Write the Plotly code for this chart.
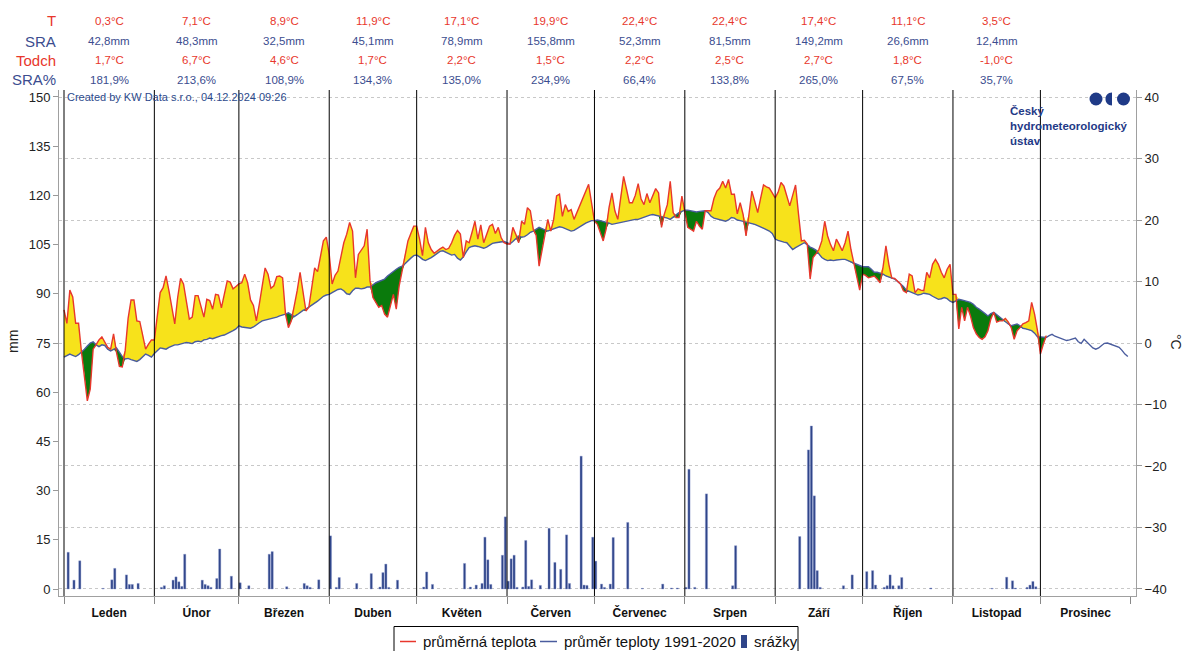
import pandas as pd
import plotly.graph_objects as go

# ---------------- data ----------------
months = ["Leden", "Únor", "Březen", "Duben", "Květen", "Červen",
          "Červenec", "Srpen", "Září", "Říjen", "Listopad", "Prosinec"]

hdr_T = ["0,3°C", "7,1°C", "8,9°C", "11,9°C", "17,1°C", "19,9°C",
         "22,4°C", "22,4°C", "17,4°C", "11,1°C", "3,5°C"]
hdr_SRA = ["42,8mm", "48,3mm", "32,5mm", "45,1mm", "78,9mm", "155,8mm",
           "52,3mm", "81,5mm", "149,2mm", "26,6mm", "12,4mm"]
hdr_Todch = ["1,7°C", "6,7°C", "4,6°C", "1,7°C", "2,2°C", "1,5°C",
             "2,2°C", "2,5°C", "2,7°C", "1,8°C", "-1,0°C"]
hdr_SRApct = ["181,9%", "213,6%", "108,9%", "134,3%", "135,0%", "234,9%",
              "66,4%", "133,8%", "265,0%", "67,5%", "35,7%"]

# daily mean temperature 2024 (°C)
t_jan = [5.4, 3.2, 8.6, 7.5, 3.2, 3.2, -1.5, -5.0, -9.4, -7.5, -1.0, -0.3, 0.5, 1.0, 0.2,
         -0.7, -1.0, 1.5, -1.5, -3.8, -3.9, -1.2, 4.0, 7.0, 7.0, 3.6, 3.5, 1.5, -1.0, -0.2, 0.5]
t_feb = [0.5, 4.4, 8.2, 9.0, 10.9, 8.5, 5.8, 3.1, 7.4, 10.5, 9.6, 6.9, 3.9, 4.2, 7.7,
         7.7, 5.8, 4.2, 7.1, 6.9, 5.5, 7.9, 7.8, 5.7, 7.9, 10.1, 9.9, 8.8, 9.2]
t_mar = [9.6, 9.8, 11.2, 9.8, 7.0, 6.1, 3.6, 6.3, 9.5, 12.2, 11.2, 8.9, 9.3, 10.8, 10.9,
         10.6, 4.7, 2.5, 3.6, 6.0, 8.5, 11.5, 8.5, 5.2, 5.8, 9.0, 12.2, 11.6, 14.0, 16.6, 17.2]
t_apr = [14.4, 9.6, 11.0, 11.7, 13.9, 16.3, 17.7, 19.6, 18.2, 10.6, 14.4, 15.2, 15.8, 18.5, 10.1,
         7.4, 6.5, 5.8, 6.1, 4.7, 4.2, 6.3, 7.9, 5.5, 9.3, 11.7, 14.5, 16.6, 17.8, 19.0]
t_may = [19.0, 16.9, 14.2, 18.8, 16.3, 15.2, 14.6, 15.0, 15.3, 15.6, 15.2, 15.4, 16.3, 17.5, 18.3,
         17.7, 13.9, 16.6, 16.3, 18.0, 19.8, 16.9, 19.2, 16.3, 17.5, 19.0, 19.3, 17.8, 18.8, 17.1, 16.3]
t_jun = [16.1, 16.1, 18.8, 17.7, 16.3, 19.8, 19.3, 22.0, 21.5, 18.5, 17.5, 12.5, 15.2, 17.9, 20.1,
         18.2, 20.1, 23.9, 24.2, 20.6, 22.5, 21.4, 21.7, 20.1, 21.2, 22.3, 23.7, 24.8, 25.8, 22.8]
t_jul = [19.8, 19.3, 18.0, 16.6, 18.5, 22.0, 24.4, 21.5, 20.1, 24.0, 27.1, 25.0, 22.8, 22.8, 24.0,
         25.9, 23.4, 22.5, 24.3, 22.8, 23.9, 25.1, 24.4, 18.8, 21.0, 22.5, 26.3, 21.2, 20.4, 20.4, 23.9]
t_aug = [21.5, 18.8, 18.5, 18.2, 19.8, 19.0, 18.5, 21.5, 21.5, 21.5, 23.5, 24.7, 25.2, 26.3, 25.2,
         26.6, 24.2, 24.2, 21.0, 22.8, 20.9, 17.4, 20.9, 24.7, 23.0, 21.2, 23.5, 25.7, 25.4, 25.2, 24.4]
t_sep = [23.6, 24.5, 26.1, 25.5, 24.0, 22.3, 24.0, 25.7, 21.0, 16.6, 16.7, 16.1, 10.4, 13.9, 14.5,
         15.2, 16.6, 19.8, 17.4, 16.0, 15.0, 16.9, 16.0, 15.0, 16.3, 18.2, 15.2, 12.8, 10.6, 8.6]
t_oct = [11.2, 11.0, 10.6, 10.7, 10.9, 10.4, 9.8, 12.3, 15.8, 12.8, 10.6, 10.5, 10.0, 9.6, 8.5,
         8.2, 11.2, 10.9, 8.2, 8.8, 8.6, 8.5, 11.5, 10.6, 12.8, 13.6, 12.8, 11.5, 10.6, 12.0, 12.8]
t_nov = [7.9, 7.9, 2.3, 5.8, 3.6, 5.8, 4.4, 2.5, 1.5, 0.9, 0.6, 1.0, 2.0, 3.9, 5.0,
         3.4, 3.6, 3.6, 4.0, 3.4, 2.5, 0.6, 2.0, 2.5, 3.1, 3.3, 3.6, 6.6, 4.7, 2.0]
t_dec = [-1.8, -0.2, 1.2]

# daily normal 1991-2020 (°C)
n_jan = [-2.3, -2.0, -1.8, -2.0, -2.2, -1.9, -1.5, -1.0, -0.5, 0.0, 0.2, -0.3, -0.6, -0.3, -0.4,
         -1.0, -1.3, -1.0, -0.8, -1.5, -2.2, -2.6, -2.5, -2.7, -2.8, -3.0, -2.7, -2.2, -1.8, -2.0, -2.3]
n_feb = [-1.7, -1.2, -0.8, -0.9, -1.0, -0.7, -0.5, -0.3, -0.3, -0.2, 0.0, 0.1, 0.0, -0.1, 0.2,
         0.3, 0.2, 0.5, 0.6, 0.8, 0.7, 0.9, 1.1, 1.2, 1.3, 1.5, 1.7, 2.0, 2.3]
n_mar = [2.8, 2.6, 2.5, 2.4, 2.4, 2.6, 3.0, 3.3, 3.6, 3.7, 3.8, 4.0, 4.0, 4.2, 4.4,
         4.5, 4.7, 4.9, 4.6, 4.3, 4.6, 5.0, 5.3, 5.5, 5.8, 6.1, 6.5, 6.8, 7.2, 7.6, 7.8]
n_apr = [7.9, 8.2, 8.5, 8.7, 8.8, 8.5, 8.0, 7.9, 8.5, 8.9, 8.9, 8.8, 8.9, 9.1, 9.1,
         9.5, 9.8, 10.0, 10.2, 10.4, 10.9, 11.3, 11.7, 12.0, 12.3, 12.5, 12.9, 13.4, 13.8, 14.2]
n_may = [14.3, 14.0, 13.6, 13.4, 13.6, 13.9, 14.2, 14.6, 14.9, 15.0, 14.8, 14.5, 14.3, 14.4, 13.8,
         13.5, 14.0, 14.8, 15.5, 15.7, 15.8, 15.7, 15.5, 15.4, 15.6, 15.9, 16.2, 16.3, 16.4, 16.5, 16.5]
n_jun = [16.3, 16.1, 16.5, 17.0, 17.4, 17.2, 17.3, 17.6, 18.0, 18.2, 18.5, 18.8, 18.6, 18.4, 18.2,
         18.4, 18.6, 18.8, 18.9, 18.8, 18.6, 18.4, 18.2, 18.3, 18.6, 19.0, 19.3, 19.5, 19.7, 19.9]
n_jul = [19.9, 20.0, 19.9, 19.8, 19.6, 19.5, 19.3, 19.4, 19.6, 19.7, 19.8, 19.9, 20.0, 20.0, 20.1,
         20.1, 20.3, 20.5, 20.6, 20.8, 20.9, 20.8, 20.7, 20.5, 20.5, 20.3, 20.1, 20.5, 20.9, 21.2, 21.4]
n_aug = [21.6, 21.6, 21.5, 21.4, 21.3, 21.4, 21.5, 21.5, 21.2, 20.6, 20.3, 20.2, 20.1, 19.9, 19.8,
         20.0, 20.4, 20.3, 20.0, 19.9, 19.8, 19.7, 19.6, 19.4, 19.3, 19.1, 18.9, 18.7, 18.5, 18.2, 17.8]
n_sep = [16.9, 16.7, 16.5, 16.4, 16.3, 15.8, 15.2, 15.5, 15.8, 16.1, 16.3, 16.0, 15.6, 15.4, 15.1,
         14.5, 13.9, 13.6, 13.4, 13.5, 13.4, 13.5, 13.6, 13.6, 13.6, 13.4, 13.1, 12.9, 12.7, 12.5]
n_oct = [12.4, 12.4, 12.4, 12.0, 11.5, 11.5, 11.4, 11.2, 10.9, 10.7, 10.5, 10.4, 10.0, 9.6, 9.2,
         8.6, 8.4, 8.2, 8.0, 7.8, 7.9, 8.1, 8.0, 7.9, 7.6, 7.3, 7.1, 7.2, 7.4, 7.2, 6.8]
n_nov = [6.6, 6.9, 7.1, 7.0, 6.9, 6.8, 6.6, 6.3, 5.8, 5.5, 5.2, 4.8, 4.4, 4.8, 5.0,
         4.6, 4.3, 3.9, 3.4, 3.1, 2.8, 2.9, 3.1, 2.8, 2.4, 2.3, 2.1, 2.0, 1.6, 1.0]
n_dec = [1.0, 0.9, 0.9, 1.2, 1.4, 1.1, 0.9, 0.7, 0.5, 0.4, 0.5, 0.7, 0.8, 0.2, -0.05,
         0.6, 0.1, -0.4, -0.8, -1.0, -0.8, -0.4, -0.05, 0.0, -0.2, -0.4, -0.5, -0.7, -1.2, -1.8, -2.2]

# daily precipitation (date, mm) - days without rain omitted
rain_date = ["2024-01-02", "2024-01-04", "2024-01-06", "2024-01-14", "2024-01-17", "2024-01-18",
             "2024-01-22", "2024-01-23", "2024-01-24", "2024-01-26",
             "2024-02-03", "2024-02-04", "2024-02-07", "2024-02-08", "2024-02-09", "2024-02-10",
             "2024-02-11", "2024-02-17", "2024-02-18", "2024-02-19", "2024-02-20", "2024-02-22",
             "2024-02-23", "2024-02-27",
             "2024-03-01", "2024-03-04", "2024-03-11", "2024-03-12", "2024-03-17", "2024-03-23",
             "2024-03-24", "2024-03-25", "2024-03-28",
             "2024-04-01", "2024-04-03", "2024-04-04", "2024-04-10", "2024-04-15", "2024-04-18",
             "2024-04-19", "2024-04-20", "2024-04-21", "2024-04-24",
             "2024-05-03", "2024-05-04", "2024-05-06", "2024-05-17", "2024-05-19", "2024-05-21",
             "2024-05-23", "2024-05-24", "2024-05-25", "2024-05-26", "2024-05-30", "2024-05-31",
             "2024-06-01", "2024-06-02", "2024-06-03", "2024-06-04", "2024-06-06", "2024-06-07",
             "2024-06-08", "2024-06-09", "2024-06-12", "2024-06-15", "2024-06-17", "2024-06-19",
             "2024-06-21", "2024-06-22", "2024-06-26", "2024-06-27", "2024-06-28", "2024-06-30",
             "2024-07-01", "2024-07-03", "2024-07-04", "2024-07-06", "2024-07-07", "2024-07-12",
             "2024-07-17", "2024-07-24", "2024-07-27", "2024-07-29",
             "2024-08-01", "2024-08-02", "2024-08-04", "2024-08-08", "2024-08-17", "2024-08-18",
             "2024-09-09", "2024-09-12", "2024-09-13", "2024-09-14", "2024-09-15", "2024-09-16",
             "2024-09-24", "2024-09-27",
             "2024-10-02", "2024-10-04", "2024-10-05", "2024-10-08", "2024-10-09", "2024-10-10",
             "2024-10-11", "2024-10-13", "2024-10-14", "2024-10-24",
             "2024-11-14", "2024-11-19", "2024-11-21", "2024-11-22", "2024-11-26", "2024-11-27",
             "2024-11-28", "2024-11-29"]
rain_mm = [11.2, 2.7, 8.6, 0.2, 2.8, 6.3, 4.3, 1.4, 1.4, 1.7,
           0.5, 1.0, 2.7, 3.7, 2.2, 0.8, 10.6, 2.7, 1.4, 1.0, 0.5, 3.2, 12.2, 3.9,
           1.9, 1.0, 10.6, 11.4, 0.7, 1.7, 1.0, 0.5, 2.8,
           16.2, 0.5, 3.5, 1.7, 4.7, 0.6, 5.0, 7.6, 0.5, 2.7,
           0.6, 5.2, 1.4, 7.8, 0.6, 1.2, 1.7, 15.8, 8.9, 1.4, 10.3, 22.0,
           2.4, 9.2, 10.3, 0.5, 0.6, 14.8, 0.8, 2.8, 1.1, 18.5, 8.1, 6.0, 16.5, 1.7, 40.5, 1.2, 1.1, 15.8,
           8.5, 1.5, 0.5, 1.5, 15.7, 20.3, 0.2, 1.5, 0.3, 0.3,
           0.5, 36.5, 0.5, 29.0, 1.0, 13.2,
           16.0, 42.4, 49.7, 28.4, 5.6, 0.5, 1.0, 4.3,
           5.3, 5.6, 1.2, 0.5, 1.0, 4.3, 1.0, 1.0, 3.5, 0.3,
           0.2, 3.6, 2.5, 0.3, 0.5, 1.2, 2.3, 0.7]

legend_names = ["průměrná teplota", "průměr teploty 1991-2020", "srážky"]

# ---------------- assemble ----------------
t_act = t_jan + t_feb + t_mar + t_apr + t_may + t_jun + t_jul + t_aug + t_sep + t_oct + t_nov + t_dec
t_norm = n_jan + n_feb + n_mar + n_apr + n_may + n_jun + n_jul + n_aug + n_sep + n_oct + n_nov + n_dec
days = pd.date_range("2024-01-01", periods=len(t_norm), freq="D")
act_days = days[:len(t_act)]
norm_part = t_norm[:len(t_act)]
upper = [max(a, n) for a, n in zip(t_act, norm_part)]
lower = [min(a, n) for a, n in zip(t_act, norm_part)]

month_starts = pd.date_range("2024-01-01", periods=13, freq="MS")
month_mid = [month_starts[i] + (month_starts[i + 1] - month_starts[i]) / 2 for i in range(12)]

RED = "#e8372c"
BLUE = "#4a5c9e"
BAR = "#2f4589"
TXT_BLUE = "#3b4d8f"
LOGO = "#1f3a87"
FONT = "Liberation Sans"

fig = go.Figure()

# precipitation bars (left axis)
fig.add_trace(go.Bar(
    x=pd.to_datetime(rain_date), y=rain_mm, name=legend_names[2],
    marker=dict(color=BAR, line=dict(color="#8d9bcf", width=0.4)),
    width=0.75 * 86400000, offset=0.05 * 86400000,
    yaxis="y", showlegend=False))

# anomaly fills (right axis)
clear = dict(width=0, color="rgba(0,0,0,0)")
fig.add_trace(go.Scatter(x=act_days, y=norm_part, yaxis="y2", mode="lines", line=clear,
                         showlegend=False, hoverinfo="skip"))
fig.add_trace(go.Scatter(x=act_days, y=upper, yaxis="y2", mode="lines", fill="tonexty",
                         fillcolor="#f7e21b", line=clear, showlegend=False, hoverinfo="skip"))
fig.add_trace(go.Scatter(x=act_days, y=norm_part, yaxis="y2", mode="lines", line=clear,
                         showlegend=False, hoverinfo="skip"))
fig.add_trace(go.Scatter(x=act_days, y=lower, yaxis="y2", mode="lines", fill="tonexty",
                         fillcolor="#0a7a0c", line=clear, showlegend=False, hoverinfo="skip"))

# lines
fig.add_trace(go.Scatter(x=days, y=t_norm, yaxis="y2", mode="lines", name=legend_names[1],
                         line=dict(color=BLUE, width=1.4), showlegend=False))
fig.add_trace(go.Scatter(x=act_days, y=t_act, yaxis="y2", mode="lines", name=legend_names[0],
                         line=dict(color=RED, width=1.4), showlegend=False))

# pixel helpers (plot area 59..1136 x 90..596 in a 1184x651 figure)
L, R_, T_, B_ = 59, 1136, 90, 596
def px(x):
    return (x - L) / (R_ - L)
def py(y):
    return (B_ - y) / (B_ - T_)

# month separator lines
shapes = []
for ms in month_starts[:12]:
    shapes.append(dict(type="line", xref="x", yref="paper", x0=ms, x1=ms, y0=0, y1=1,
                       line=dict(color="black", width=1), layer="above"))

# ČHMÚ logo (decoration)
shapes.append(dict(type="circle", xref="paper", yref="paper", x0=px(1089.5), x1=px(1102.5),
                   y0=py(105.5), y1=py(92.5), fillcolor=LOGO, line=dict(width=0)))
shapes.append(dict(type="path", xref="paper", yref="paper",
                   path=(f"M {px(1112)} {py(92.5)} C {px(1103.3)} {py(92.5)} {px(1103.3)} {py(105.5)} "
                         f"{px(1112)} {py(105.5)} Z"),
                   fillcolor=LOGO, line=dict(width=0)))
shapes.append(dict(type="circle", xref="paper", yref="paper", x0=px(1117), x1=px(1130),
                   y0=py(105.5), y1=py(92.5), fillcolor=LOGO, line=dict(width=0)))

# manual legend (box cut by the bottom edge like the reference)
shapes.append(dict(type="rect", xref="paper", yref="paper", x0=px(394), x1=px(798),
                   y0=py(662), y1=py(626.5), line=dict(color="black", width=1), fillcolor="white"))
shapes.append(dict(type="line", xref="paper", yref="paper", x0=px(400), x1=px(416),
                   y0=py(641.5), y1=py(641.5), line=dict(color=RED, width=1.5)))
shapes.append(dict(type="line", xref="paper", yref="paper", x0=px(540), x1=px(557),
                   y0=py(641.5), y1=py(641.5), line=dict(color=BLUE, width=1.5)))
shapes.append(dict(type="rect", xref="paper", yref="paper", x0=px(741), x1=px(747),
                   y0=py(648), y1=py(635), line=dict(width=0), fillcolor=BAR))

annotations = []
for label, xpix in zip(legend_names, [421, 562, 752]):
    annotations.append(dict(text=label, xref="paper", yref="paper", x=px(xpix), y=py(641.5),
                            xanchor="left", yanchor="middle", showarrow=False,
                            font=dict(size=15, color="#111", family=FONT)))

rows = [("T", hdr_T, RED, 1.137), ("SRA", hdr_SRA, TXT_BLUE, 1.096),
        ("Todch", hdr_Todch, RED, 1.059), ("SRA%", hdr_SRApct, TXT_BLUE, 1.020)]
for label, vals, col, yy in rows:
    annotations.append(dict(text=label, xref="paper", yref="paper", x=-0.001, y=yy,
                            xanchor="right", yanchor="middle", showarrow=False,
                            font=dict(size=15, color=col, family=FONT)))
    for m, v in zip(month_mid, vals):
        annotations.append(dict(text=v, xref="x", yref="paper", x=m, y=yy,
                                xanchor="center", yanchor="middle", showarrow=False,
                                font=dict(size=11.5, color=col, family=FONT)))

annotations.append(dict(text="Created by KW Data s.r.o., 04.12.2024 09:26", xref="paper", yref="paper",
                        x=px(65), y=py(97), xanchor="left", yanchor="middle", showarrow=False,
                        font=dict(size=11, color="#2c4a8c", family=FONT)))
annotations.append(dict(text="<b>Český<br>hydrometeorologický<br>ústav</b>", xref="paper", yref="paper",
                        x=px(1008), y=py(103), xanchor="left", yanchor="top", align="left",
                        showarrow=False, font=dict(size=11.5, color=LOGO, family=FONT)))
annotations.append(dict(text="mm", xref="paper", yref="paper", x=px(13), y=py(342),
                        textangle=-90, showarrow=False, xanchor="center", yanchor="middle",
                        font=dict(size=14, color="#222", family=FONT)))
annotations.append(dict(text="°C", xref="paper", yref="paper", x=px(1176), y=py(342),
                        textangle=90, showarrow=False, xanchor="center", yanchor="middle",
                        font=dict(size=14, color="#222", family=FONT)))

x0 = pd.Timestamp("2024-01-01") - pd.Timedelta(days=1.715)
x1 = pd.Timestamp("2024-01-01") + pd.Timedelta(days=367.8)

fig.update_layout(
    width=1184, height=651,
    margin=dict(l=59, r=48, t=90, b=55, autoexpand=False),
    paper_bgcolor="white", plot_bgcolor="white",
    font=dict(family=FONT, color="#222"),
    barmode="overlay",
    showlegend=False,
    xaxis=dict(type="date", range=[x0, x1], tickmode="array", tickvals=month_mid, ticktext=months,
               ticks="outside", ticklen=6, tickcolor="rgba(0,0,0,0)", showgrid=False,
               showline=True, linecolor="#a0a0a0", zeroline=False,
               tickfont=dict(size=12, color="#111", family=FONT, weight="bold"),
               minor=dict(tickmode="array", tickvals=list(month_starts), ticks="outside",
                          ticklen=7, tickcolor="#888", showgrid=False)),
    yaxis=dict(range=[-2.13, 152.13], tickmode="array", tickvals=list(range(0, 151, 15)),
               ticks="outside", ticklen=5, tickcolor="#999", showline=True, linecolor="#a0a0a0",
               showgrid=False, zeroline=False, tickfont=dict(size=13, color="#222")),
    yaxis2=dict(range=[-41.14, 41.14], overlaying="y", side="right", tickmode="array",
                tickvals=list(range(-40, 41, 10)), ticks="outside", ticklen=5, tickcolor="#999",
                showline=True, linecolor="#a0a0a0", showgrid=True, gridcolor="#c8c8c8",
                griddash="3px,3px", gridwidth=1, zeroline=False, tickfont=dict(size=13, color="#222")),
    shapes=shapes,
    annotations=annotations,
)

fig.write_html("out.html", config={"displayModeBar": False},
               post_script="document.body.style.margin='0';document.body.style.overflow='hidden';")
